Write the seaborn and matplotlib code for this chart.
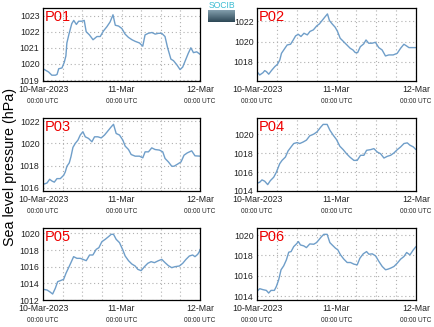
import numpy as np
import pandas as pd
import matplotlib
matplotlib.use("Agg")
import matplotlib.pyplot as plt
from matplotlib.ticker import MultipleLocator, FixedLocator
import matplotlib.transforms as mtransforms
import seaborn as sns

# ---------------- data (hours since 10-Mar-2023 00:00 UTC, pressure hPa) -------------
stations = ["P01", "P02", "P03", "P04", "P05", "P06"]

p01_hours = [0, 1.7, 2.7, 3.8, 4.3, 4.8, 5.8, 6.5, 7.0, 7.3, 8.0, 8.8, 9.4, 10.2, 10.9, 11.9,
             12.6, 13.2, 14.2, 15.3, 16.5, 17.5, 18.5, 19.5, 20.5, 21.4, 22.1, 23.1, 24.1, 25.1,
             26.1, 27.2, 28.2, 29.5, 30.5, 31.2, 32.2, 33.3, 34.3, 35.3, 36.3, 37.3, 38.1, 39.1,
             39.9, 40.9, 41.9, 42.7, 43.7, 44.4, 45.2, 46.0, 47.0, 48.0]
p01_press = [1019.7, 1019.5, 1019.3, 1019.3, 1019.35, 1019.7, 1019.75, 1020.1, 1020.5, 1021.3,
             1021.9, 1022.5, 1022.7, 1022.45, 1022.65, 1022.65, 1022.7, 1022.0, 1021.8, 1021.5,
             1021.7, 1021.7, 1022.05, 1022.3, 1022.6, 1023.05, 1022.4, 1022.35, 1022.2, 1021.85,
             1021.65, 1021.5, 1021.4, 1021.3, 1021.1, 1021.8, 1021.9, 1021.95, 1021.85, 1021.9,
             1021.9, 1021.7, 1021.0, 1020.3, 1020.2, 1019.95, 1019.65, 1019.8, 1020.3, 1020.65,
             1021.0, 1020.7, 1020.75, 1020.6]

p02_hours = [0, 0.81, 1.82, 2.33, 2.84, 3.54, 4.35, 5.37, 6.18, 6.89, 7.39, 8.41, 9.11, 10.13,
             10.94, 11.65, 12.46, 13.27, 14.18, 15.19, 16.0, 17.01, 18.03, 18.84, 19.65, 20.46,
             21.27, 21.87, 22.68, 23.6, 24.3, 25.11, 26.13, 27.14, 28.15, 28.96, 29.67, 30.38,
             31.19, 32.2, 32.91, 33.72, 34.73, 35.75, 36.76, 37.77, 38.78, 39.8, 41.11, 42.33,
             43.34, 44.35, 45.16, 45.87, 46.89, 48.0]
p02_press = [1017.05, 1016.72, 1016.95, 1017.15, 1017.05, 1016.8, 1017.15, 1017.54, 1017.77, 1018.2,
             1018.85, 1019.34, 1019.67, 1019.74, 1020.16, 1020.56, 1020.72, 1020.5, 1020.82, 1020.66,
             1021.0, 1021.15, 1021.54, 1021.74, 1022.07, 1022.4, 1022.72, 1022.07, 1021.74, 1021.41,
             1021.0, 1020.33, 1020.0, 1019.67, 1019.34, 1019.18, 1018.92, 1018.92, 1019.5, 1019.77,
             1020.16, 1019.84, 1019.84, 1019.93, 1019.41, 1019.18, 1018.59, 1018.69, 1018.69, 1018.85,
             1019.34, 1019.74, 1019.57, 1019.41, 1019.41, 1019.41]

p03_hours = [0, 1.22, 2.03, 2.75, 3.46, 4.27, 5.29, 6.31, 6.81, 7.32, 8.03, 8.54, 9.15, 9.86,
             10.68, 11.39, 12.2, 12.92, 13.93, 14.95, 15.76, 16.78, 17.8, 18.81, 20.03, 20.85,
             21.56, 22.37, 23.39, 24.41, 25.12, 26.14, 26.95, 28.17, 29.49, 30.51, 31.22, 32.24,
             33.25, 34.27, 35.59, 36.61, 37.32, 38.34, 39.36, 40.07, 41.09, 42.2, 43.12, 44.14,
             45.46, 46.47, 48.0]
p03_press = [1016.3, 1016.42, 1016.76, 1016.6, 1016.5, 1016.82, 1016.82, 1017.12, 1017.42, 1017.94,
             1018.24, 1018.79, 1019.64, 1020.0, 1020.3, 1020.76, 1021.06, 1020.6, 1020.45, 1020.15,
             1020.6, 1020.6, 1020.5, 1020.76, 1021.2, 1021.5, 1021.73, 1020.9, 1020.76, 1020.3,
             1019.76, 1019.45, 1019.0, 1018.85, 1018.85, 1018.7, 1019.24, 1019.24, 1019.6, 1019.45,
             1019.4, 1019.24, 1018.64, 1018.33, 1017.94, 1017.94, 1018.12, 1018.33, 1018.94, 1019.15,
             1019.33, 1018.88, 1018.85]

p04_hours = [0, 0.81, 1.51, 2.32, 3.23, 4.03, 5.04, 5.85, 6.86, 7.56, 8.57, 9.38, 10.29, 11.09,
             12.1, 12.91, 13.92, 14.92, 15.93, 17.14, 18.15, 19.16, 19.97, 21.18, 21.99, 23.0,
             24.0, 25.01, 26.02, 27.03, 28.04, 29.25, 30.25, 31.26, 32.27, 33.08, 34.29, 35.29,
             36.3, 37.31, 38.32, 39.33, 40.33, 41.34, 42.35, 43.36, 44.37, 45.37, 46.18, 47.19, 48.0]
p04_press = [1014.82, 1014.93, 1015.18, 1015.04, 1014.68, 1015.1, 1015.46, 1016.0, 1016.9, 1017.25,
             1017.6, 1018.25, 1018.68, 1019.04, 1019.14, 1019.04, 1019.2, 1019.4, 1019.86, 1020.04,
             1020.29, 1020.75, 1021.07, 1021.07, 1020.46, 1019.93, 1019.46, 1018.75, 1018.39, 1017.96,
             1017.6, 1017.25, 1017.25, 1017.79, 1017.79, 1018.32, 1018.39, 1018.5, 1018.14, 1017.96,
             1017.5, 1017.68, 1017.79, 1018.04, 1018.39, 1018.68, 1019.04, 1019.11, 1018.86, 1018.68,
             1018.39]

p05_hours = [0, 1.22, 2.03, 2.95, 3.76, 4.48, 5.29, 6.31, 7.02, 7.83, 8.54, 9.36, 10.37, 11.39,
             12.2, 13.22, 14.24, 15.25, 16.27, 17.09, 18.0, 19.02, 20.03, 20.85, 21.56, 22.37,
             23.39, 24.41, 25.12, 26.14, 27.15, 28.17, 28.98, 30.0, 31.02, 32.03, 33.05, 34.07,
             35.08, 36.31, 37.32, 38.34, 39.36, 40.37, 41.69, 42.71, 43.73, 44.75, 45.76, 46.47,
             47.29, 47.8, 48.0]
p05_press = [1013.28, 1013.2, 1013.0, 1012.72, 1013.4, 1014.2, 1014.32, 1014.48, 1015.2, 1015.88,
             1016.48, 1017.2, 1017.0, 1017.0, 1016.88, 1016.72, 1017.4, 1017.4, 1018.08, 1018.28,
             1019.0, 1019.28, 1019.6, 1019.88, 1019.88, 1019.28, 1018.88, 1018.0, 1017.28, 1016.72,
             1016.32, 1016.08, 1015.68, 1015.52, 1016.0, 1016.4, 1016.6, 1016.48, 1016.68, 1016.88,
             1016.48, 1016.12, 1015.88, 1016.0, 1016.08, 1016.4, 1016.88, 1017.28, 1017.4, 1017.2,
             1017.48, 1017.8, 1018.08]

p06_hours = [0, 0.81, 1.82, 2.82, 3.53, 4.23, 5.24, 5.85, 6.55, 7.26, 8.07, 8.87, 9.58, 10.29,
             11.09, 11.9, 12.5, 13.11, 14.12, 14.92, 15.93, 17.14, 17.95, 18.65, 19.46, 20.17,
             21.18, 21.99, 22.69, 23.7, 24.4, 25.21, 26.22, 27.23, 28.24, 29.25, 30.25, 31.06,
             32.07, 33.08, 33.78, 34.79, 35.8, 36.81, 37.81, 38.82, 39.53, 40.33, 41.34, 42.35,
             43.36, 44.37, 45.17, 46.18, 47.19, 48.0]
p06_press = [1014.49, 1014.75, 1014.65, 1014.58, 1014.32, 1014.58, 1014.58, 1014.97, 1015.62, 1016.6,
             1016.99, 1017.57, 1018.32, 1018.38, 1018.87, 1019.13, 1019.36, 1019.03, 1018.94, 1018.77,
             1019.13, 1019.1, 1019.26, 1019.52, 1019.84, 1020.07, 1020.07, 1019.26, 1019.03, 1018.71,
             1018.55, 1018.06, 1017.64, 1017.31, 1017.31, 1017.15, 1017.08, 1017.73, 1018.16, 1018.38,
             1018.12, 1018.16, 1017.96, 1017.41, 1016.92, 1016.6, 1016.66, 1016.76, 1016.92, 1017.25,
             1017.64, 1017.9, 1018.29, 1018.06, 1018.55, 1018.87]

y_ticks = [[1019, 1020, 1021, 1022, 1023],
           [1018, 1020, 1022],
           [1016, 1018, 1020, 1022],
           [1014, 1016, 1018, 1020],
           [1012, 1014, 1016, 1018, 1020],
           [1014, 1016, 1018, 1020]]
y_limits = [(1018.94, 1023.47), (1016.13, 1023.3), (1015.7, 1022.3),
            (1014.0, 1021.75), (1012.0, 1020.64), (1013.64, 1020.69)]

x_tick_hours = [0, 24, 48]
x_tick_dates = ["10-Mar-2023", "11-Mar", "12-Mar"]
x_tick_times = ["00:00 UTC", "00:00 UTC", "00:00 UTC"]
y_label = "Sea level pressure (hPa)"

series = [(p01_hours, p01_press), (p02_hours, p02_press), (p03_hours, p03_press),
          (p04_hours, p04_press), (p05_hours, p05_press), (p06_hours, p06_press)]

# ---------------- style -------------
sns.set_style("white")
plt.rcParams["font.family"] = ["Liberation Sans", "DejaVu Sans"]

W, H = 434, 327
fig = plt.figure(figsize=(W / 100, H / 100), dpi=100)

# axes boxes in pixel coords (left, top, right, bottom)
boxes = [(43, 8, 200, 81), (257, 8, 416, 81),
         (43, 118, 200, 191), (257, 118, 416, 191),
         (43, 228, 200, 300), (257, 228, 416, 300)]

line_color = "#6f9ec9"

for i, (name, (hrs, prs)) in enumerate(zip(stations, series)):
    l, t, r, b = boxes[i]
    ax = fig.add_axes([l / W, 1 - b / H, (r - l) / W, (b - t) / H])
    df = pd.DataFrame({"hours": hrs, "pressure": prs})
    sns.lineplot(data=df, x="hours", y="pressure", ax=ax, color=line_color,
                 linewidth=1.0, estimator=None)
    ax.set_xlim(0, 48)
    ax.set_ylim(*y_limits[i])
    ax.set_xlabel("")
    ax.set_ylabel("")
    ax.xaxis.set_major_locator(FixedLocator(x_tick_hours))
    ax.xaxis.set_minor_locator(MultipleLocator(6))
    ax.set_xticklabels(x_tick_dates)
    ax.set_yticks(y_ticks[i])
    ax.grid(True, which="both", axis="x", color="#b0b0b0", linestyle=(0, (1, 2.5)), linewidth=0.8)
    ax.grid(True, which="major", axis="y", color="#b0b0b0", linestyle=(0, (1, 2.5)), linewidth=0.8)
    ax.tick_params(axis="both", which="major", direction="in", length=2.5, width=0.6,
                   labelsize=6.3, colors="#222222", pad=2.5)
    ax.tick_params(axis="x", which="minor", length=0)
    ax.tick_params(axis="x", which="major", pad=3)
    for s in ax.spines.values():
        s.set_visible(True)
        s.set_color("black")
        s.set_linewidth(0.9)
    trans = mtransforms.blended_transform_factory(ax.transData, ax.transAxes)
    for xh, lab in zip(x_tick_hours, x_tick_times):
        ax.annotate(lab, xy=(xh, 0), xycoords=trans, xytext=(0, -12.3),
                    textcoords="offset points", ha="center", va="top",
                    fontsize=4.7, color="#222222")
    ax.text(0.012, 0.97, name, transform=ax.transAxes, ha="left", va="top",
            fontsize=10.5, color="#ee0000")

fig.text(10 / W, 1 - 167 / H, y_label, rotation=90, ha="center", va="center",
         fontsize=10.3, color="black")

# SOCIB logo (text + gradient block)
fig.text(221.5 / W, 1 - 5.5 / H, "SOCIB", ha="center", va="center", fontsize=6.2,
         color="#3cbcd2")
lax = fig.add_axes([208 / W, 1 - 22 / H, 27 / W, 12.5 / H])
grad = np.linspace(0, 1, 50).reshape(-1, 1)
cmap = matplotlib.colors.LinearSegmentedColormap.from_list("logo", ["#8aa6b4", "#2d4756"])
lax.imshow(grad, aspect="auto", cmap=cmap)
lax.axis("off")

fig.savefig("out.png", dpi=100)
